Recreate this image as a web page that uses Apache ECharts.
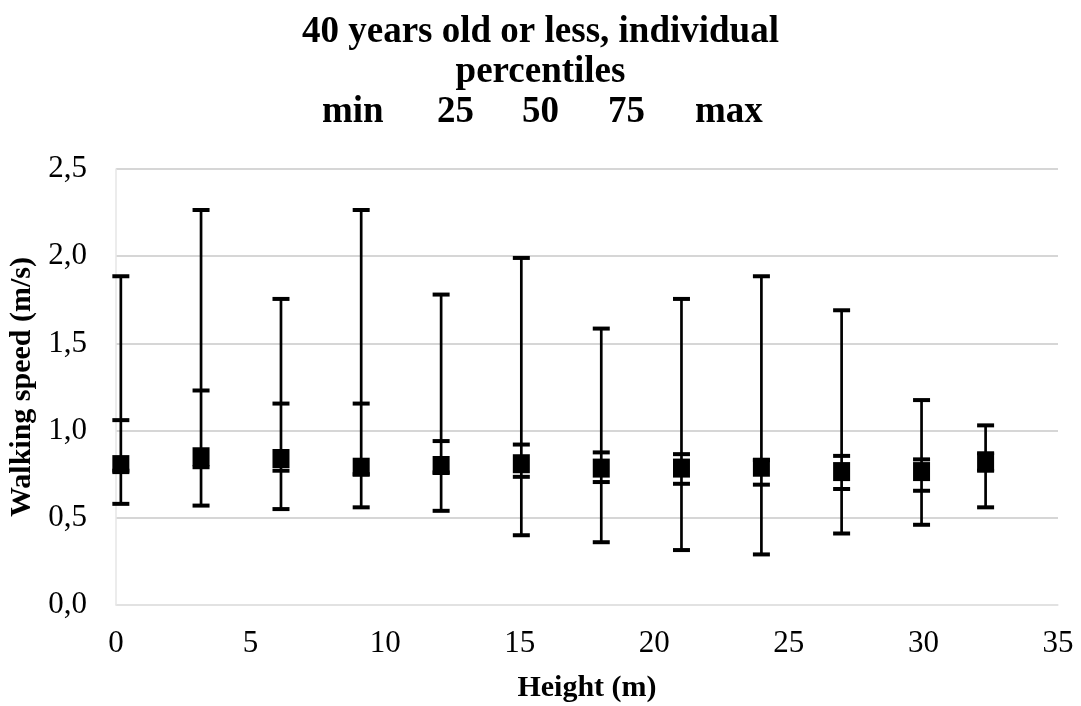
<!DOCTYPE html>
<html>
<head>
<meta charset="utf-8">
<script src="https://cdn.jsdelivr.net/npm/echarts@6/dist/echarts.min.js"></script>
<style>html,body{margin:0;padding:0;background:#fff}#c{width:1081px;height:706px}</style>
</head>
<body>
<div id="c"></div>
<script>
const heights = [0.18, 3.16, 6.13, 9.11, 12.08, 15.06, 18.03, 21.01, 23.98, 26.96, 29.93, 32.31];
const pMin = [0.58, 0.57, 0.55, 0.56, 0.54, 0.40, 0.36, 0.315, 0.29, 0.41, 0.46, 0.56];
const p25  = [0.77, 0.79, 0.77, 0.75, 0.76, 0.735, 0.705, 0.695, 0.69, 0.665, 0.655, 0.77];
const p50  = [0.805, 0.85, 0.84, 0.79, 0.80, 0.81, 0.785, 0.785, 0.79, 0.765, 0.765, 0.82];
const p75  = [1.06, 1.23, 1.155, 1.155, 0.94, 0.92, 0.875, 0.865, 0.83, 0.855, 0.835, 0.87];
const pMax = [1.885, 2.265, 1.755, 2.265, 1.78, 1.99, 1.585, 1.755, 1.885, 1.69, 1.175, 1.03];
const titleLines = ['40 years old or less, individual', 'percentiles'];
const pctLabels = ['min', '25', '50', '75', 'max'];
const pctLeft = [317, 432, 517, 603, 690];

const serif = '"Liberation Serif", "Times New Roman", serif';
const barData = heights.map((h, i) => [h, pMin[i], p25[i], p75[i], pMax[i]]);
const medData = heights.map((h, i) => [h, p50[i]]);

const chart = echarts.init(document.getElementById('c'), null, {renderer: 'canvas'});

const titles = [{
  text: titleLines.join('\n'),
  left: 'center', top: 7,
  textStyle: {fontFamily: serif, fontWeight: 'bold', fontSize: 37, lineHeight: 40, color: '#000'}
}].concat(pctLabels.map((t, i) => ({
  text: t, left: pctLeft[i], top: 87,
  textStyle: {fontFamily: serif, fontWeight: 'bold', fontSize: 37, lineHeight: 40, color: '#000'}
})));

chart.setOption({
  animation: false,
  backgroundColor: '#fff',
  title: titles,
  grid: {left: 116, right: 23, top: 169, bottom: 101, containLabel: false, outerBoundsMode: 'none'},
  xAxis: {
    type: 'value', min: 0, max: 35, interval: 5,
    name: 'Height (m)', nameLocation: 'middle', nameGap: 68,
    nameTextStyle: {fontFamily: serif, fontWeight: 'bold', fontSize: 30, color: '#000'},
    axisLine: {show: true, lineStyle: {color: '#e6e6e6', width: 1.5}},
    axisTick: {show: false},
    splitLine: {show: false},
    axisLabel: {fontFamily: serif, fontSize: 31, color: '#000', margin: 23}
  },
  yAxis: {
    type: 'value', min: 0, max: 2.5, interval: 0.5,
    name: 'Walking speed (m/s)', nameLocation: 'middle', nameGap: 65,
    nameTextStyle: {fontFamily: serif, fontWeight: 'bold', fontSize: 30, color: '#000'},
    axisLine: {show: true, lineStyle: {color: '#e6e6e6', width: 1.5}},
    axisTick: {show: false},
    splitLine: {show: true, lineStyle: {color: '#c8c8c8', width: 1.5}},
    axisLabel: {fontFamily: serif, fontSize: 31, color: '#000', margin: 29,
      formatter: v => v.toFixed(1).replace('.', ',')}
  },
  series: [{
    type: 'custom',
    data: barData,
    encode: {x: 0, y: [1, 2, 3, 4]},
    renderItem: function (params, api) {
      const x = api.value(0);
      const pts = [1, 2, 3, 4].map(k => api.coord([x, api.value(k)]));
      const cx = pts[0][0];
      const hw = 8.5;
      const children = [{
        type: 'line',
        shape: {x1: cx, y1: pts[0][1], x2: cx, y2: pts[3][1]},
        style: {stroke: '#000', lineWidth: 2.7}
      }];
      pts.forEach(p => children.push({
        type: 'line',
        shape: {x1: cx - hw, y1: p[1], x2: cx + hw, y2: p[1]},
        style: {stroke: '#000', lineWidth: 4}
      }));
      return {type: 'group', children: children};
    },
    z: 2
  }, {
    type: 'scatter',
    data: medData,
    symbol: 'rect',
    symbolSize: [17, 19],
    itemStyle: {color: '#000', opacity: 1},
    z: 3
  }]
});
</script>
</body>
</html>
